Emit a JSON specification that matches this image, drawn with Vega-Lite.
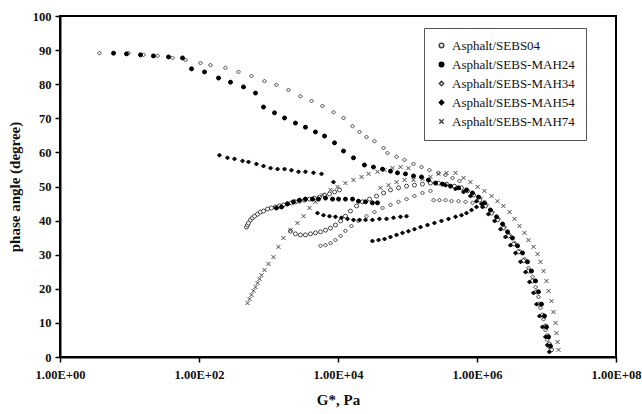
{
  "$schema": "https://vega.github.io/schema/vega-lite/v6.json",
  "width": 556,
  "height": 341,
  "autosize": {"type": "none"},
  "padding": {"left": 60, "top": 16, "right": 26, "bottom": 57},
  "background": "white",
  "config": {
    "view": {"stroke": "black", "strokeWidth": 2},
    "font": "Liberation Serif",
    "axis": {"grid": false, "domainColor": "black", "domainWidth": 2, "tickColor": "black", "tickWidth": 1.5, "tickSize": 5, "labelFont": "Liberation Serif", "labelFontWeight": "bold", "labelFontSize": 12.5, "labelColor": "#111", "titleFont": "Liberation Serif", "titleFontWeight": "bold", "titleFontSize": 15, "titleColor": "#111"},
    "legend": {"labelFont": "Liberation Serif", "labelFontSize": 13, "labelColor": "#111"}
  },
  "data": {"values": [
    {"s":"Asphalt/SEBS-MAH34","g":3.70,"p":89.1},{"s":"Asphalt/SEBS-MAH34","g":9.68,"p":89.1},{"s":"Asphalt/SEBS-MAH34","g":15.9,"p":88.6},{"s":"Asphalt/SEBS-MAH34","g":25.3,"p":88.3},{"s":"Asphalt/SEBS-MAH34","g":41.6,"p":87.7},{"s":"Asphalt/SEBS-MAH34","g":64.0,"p":87.1},{"s":"Asphalt/SEBS-MAH34","g":105,"p":86.2},{"s":"Asphalt/SEBS-MAH34","g":146,"p":85.6},{"s":"Asphalt/SEBS-MAH34","g":240,"p":84.8},{"s":"Asphalt/SEBS-MAH34","g":370,"p":83.6},{"s":"Asphalt/SEBS-MAH34","g":569,"p":82.4},{"s":"Asphalt/SEBS-MAH34","g":875,"p":80.9},{"s":"Asphalt/SEBS-MAH34","g":1300,"p":79.8},{"s":"Asphalt/SEBS-MAH34","g":1940,"p":78.3},{"s":"Asphalt/SEBS-MAH34","g":2880,"p":76.5},{"s":"Asphalt/SEBS-MAH34","g":4160,"p":75.1},{"s":"Asphalt/SEBS-MAH34","g":5980,"p":73.6},{"s":"Asphalt/SEBS-MAH34","g":8610,"p":71.8},{"s":"Asphalt/SEBS-MAH34","g":12000,"p":70.1},{"s":"Asphalt/SEBS-MAH34","g":16200,"p":67.7},{"s":"Asphalt/SEBS-MAH34","g":20400,"p":66.0},{"s":"Asphalt/SEBS-MAH34","g":25700,"p":64.5},{"s":"Asphalt/SEBS-MAH34","g":33500,"p":63.3},{"s":"Asphalt/SEBS-MAH34","g":45200,"p":61.3},{"s":"Asphalt/SEBS-MAH34","g":51500,"p":59.8},{"s":"Asphalt/SEBS-MAH34","g":69500,"p":58.7},{"s":"Asphalt/SEBS-MAH34","g":90600,"p":57.8},{"s":"Asphalt/SEBS-MAH34","g":122000,"p":56.6},{"s":"Asphalt/SEBS-MAH34","g":159000,"p":55.7},{"s":"Asphalt/SEBS-MAH34","g":207000,"p":54.8},{"s":"Asphalt/SEBS-MAH34","g":279000,"p":54.0},{"s":"Asphalt/SEBS-MAH34","g":352000,"p":53.4},{"s":"Asphalt/SEBS-MAH34","g":444000,"p":52.5},{"s":"Asphalt/SEBS-MAH34","g":560000,"p":51.6},
    {"s":"Asphalt/SEBS-MAH34","g":5600,"p":32.6},{"s":"Asphalt/SEBS-MAH34","g":6610,"p":32.8},{"s":"Asphalt/SEBS-MAH34","g":7800,"p":33.4},{"s":"Asphalt/SEBS-MAH34","g":9200,"p":34.3},{"s":"Asphalt/SEBS-MAH34","g":10900,"p":35.5},{"s":"Asphalt/SEBS-MAH34","g":12800,"p":37.0},{"s":"Asphalt/SEBS-MAH34","g":15600,"p":38.4},{"s":"Asphalt/SEBS-MAH34","g":19700,"p":39.9},{"s":"Asphalt/SEBS-MAH34","g":25700,"p":41.3},{"s":"Asphalt/SEBS-MAH34","g":33500,"p":42.5},{"s":"Asphalt/SEBS-MAH34","g":43700,"p":43.7},{"s":"Asphalt/SEBS-MAH34","g":56900,"p":44.6},{"s":"Asphalt/SEBS-MAH34","g":74300,"p":45.5},{"s":"Asphalt/SEBS-MAH34","g":96800,"p":46.3},{"s":"Asphalt/SEBS-MAH34","g":126000,"p":47.2},{"s":"Asphalt/SEBS-MAH34","g":164000,"p":48.1},{"s":"Asphalt/SEBS-MAH34","g":214000,"p":48.7},
    {"s":"Asphalt/SEBS-MAH34","g":237000,"p":46.0},{"s":"Asphalt/SEBS-MAH34","g":288000,"p":46.0},{"s":"Asphalt/SEBS-MAH34","g":352000,"p":46.0},{"s":"Asphalt/SEBS-MAH34","g":430000,"p":45.7},{"s":"Asphalt/SEBS-MAH34","g":542000,"p":45.7},{"s":"Asphalt/SEBS-MAH34","g":684000,"p":45.5},{"s":"Asphalt/SEBS-MAH34","g":861000,"p":45.2},
    {"s":"Asphalt/SEBS-MAH34","g":1.12e6,"p":46.6},{"s":"Asphalt/SEBS-MAH34","g":1.37e6,"p":44.6},{"s":"Asphalt/SEBS-MAH34","g":1.67e6,"p":42.5},{"s":"Asphalt/SEBS-MAH34","g":2.04e6,"p":40.5},{"s":"Asphalt/SEBS-MAH34","g":2.49e6,"p":38.1},{"s":"Asphalt/SEBS-MAH34","g":2.94e6,"p":35.8},{"s":"Asphalt/SEBS-MAH34","g":3.47e6,"p":33.4},{"s":"Asphalt/SEBS-MAH34","g":4.09e6,"p":31.1},{"s":"Asphalt/SEBS-MAH34","g":4.82e6,"p":28.7},{"s":"Asphalt/SEBS-MAH34","g":5.51e6,"p":26.1},{"s":"Asphalt/SEBS-MAH34","g":6.29e6,"p":23.5},{"s":"Asphalt/SEBS-MAH34","g":6.95e6,"p":20.5},{"s":"Asphalt/SEBS-MAH34","g":7.67e6,"p":17.6},{"s":"Asphalt/SEBS-MAH34","g":8.20e6,"p":14.4},{"s":"Asphalt/SEBS-MAH34","g":9.06e6,"p":11.1},{"s":"Asphalt/SEBS-MAH34","g":9.68e6,"p":7.9},{"s":"Asphalt/SEBS-MAH34","g":1.03e7,"p":5.0},{"s":"Asphalt/SEBS-MAH34","g":1.10e7,"p":2.9},

    {"s":"Asphalt/SEBS04","g":482,"p":38.1},{"s":"Asphalt/SEBS04","g":499,"p":38.7},{"s":"Asphalt/SEBS04","g":515,"p":39.3},{"s":"Asphalt/SEBS04","g":551,"p":40.2},{"s":"Asphalt/SEBS04","g":589,"p":40.8},{"s":"Asphalt/SEBS04","g":630,"p":41.3},{"s":"Asphalt/SEBS04","g":695,"p":41.9},{"s":"Asphalt/SEBS04","g":767,"p":42.5},{"s":"Asphalt/SEBS04","g":847,"p":42.8},{"s":"Asphalt/SEBS04","g":968,"p":43.4},{"s":"Asphalt/SEBS04","g":1100,"p":43.7},{"s":"Asphalt/SEBS04","g":1260,"p":44.0},{"s":"Asphalt/SEBS04","g":1440,"p":44.3},{"s":"Asphalt/SEBS04","g":1640,"p":44.6},{"s":"Asphalt/SEBS04","g":1870,"p":44.9},{"s":"Asphalt/SEBS04","g":2140,"p":45.2},{"s":"Asphalt/SEBS04","g":2440,"p":45.5},{"s":"Asphalt/SEBS04","g":2790,"p":45.7},{"s":"Asphalt/SEBS04","g":3300,"p":46.0},{"s":"Asphalt/SEBS04","g":3890,"p":46.3},{"s":"Asphalt/SEBS04","g":4590,"p":46.6},{"s":"Asphalt/SEBS04","g":5420,"p":46.9},{"s":"Asphalt/SEBS04","g":6400,"p":47.5},{"s":"Asphalt/SEBS04","g":7550,"p":47.8},{"s":"Asphalt/SEBS04","g":8910,"p":48.4},{"s":"Asphalt/SEBS04","g":10500,"p":49.0},
    {"s":"Asphalt/SEBS04","g":2070,"p":36.9},{"s":"Asphalt/SEBS04","g":2440,"p":36.1},{"s":"Asphalt/SEBS04","g":2880,"p":35.8},{"s":"Asphalt/SEBS04","g":3400,"p":35.8},{"s":"Asphalt/SEBS04","g":4020,"p":36.1},{"s":"Asphalt/SEBS04","g":4740,"p":36.4},{"s":"Asphalt/SEBS04","g":5600,"p":36.7},{"s":"Asphalt/SEBS04","g":6610,"p":37.2},{"s":"Asphalt/SEBS04","g":7800,"p":37.8},{"s":"Asphalt/SEBS04","g":9200,"p":38.7},{"s":"Asphalt/SEBS04","g":10900,"p":39.9},{"s":"Asphalt/SEBS04","g":12800,"p":41.3},{"s":"Asphalt/SEBS04","g":15100,"p":42.8},{"s":"Asphalt/SEBS04","g":18500,"p":44.3},{"s":"Asphalt/SEBS04","g":22500,"p":45.5},{"s":"Asphalt/SEBS04","g":28400,"p":46.3},{"s":"Asphalt/SEBS04","g":35800,"p":47.2},{"s":"Asphalt/SEBS04","g":45200,"p":48.1},{"s":"Asphalt/SEBS04","g":56900,"p":49.0},{"s":"Asphalt/SEBS04","g":74300,"p":49.6},{"s":"Asphalt/SEBS04","g":96800,"p":50.1},{"s":"Asphalt/SEBS04","g":126000,"p":50.4},{"s":"Asphalt/SEBS04","g":164000,"p":50.7},{"s":"Asphalt/SEBS04","g":214000,"p":51.0},{"s":"Asphalt/SEBS04","g":279000,"p":51.0},{"s":"Asphalt/SEBS04","g":364000,"p":50.7},{"s":"Asphalt/SEBS04","g":474000,"p":50.1},{"s":"Asphalt/SEBS04","g":598000,"p":49.6},
    {"s":"Asphalt/SEBS04","g":729000,"p":48.7},{"s":"Asphalt/SEBS04","g":891000,"p":47.5},{"s":"Asphalt/SEBS04","g":1.09e6,"p":46.0},{"s":"Asphalt/SEBS04","g":1.32e6,"p":44.3},{"s":"Asphalt/SEBS04","g":1.62e6,"p":42.2},{"s":"Asphalt/SEBS04","g":1.97e6,"p":40.2},{"s":"Asphalt/SEBS04","g":2.40e6,"p":37.8},{"s":"Asphalt/SEBS04","g":2.84e6,"p":35.5},{"s":"Asphalt/SEBS04","g":3.35e6,"p":33.1},{"s":"Asphalt/SEBS04","g":3.95e6,"p":30.8},{"s":"Asphalt/SEBS04","g":4.67e6,"p":28.2},{"s":"Asphalt/SEBS04","g":5.51e6,"p":25.2},{"s":"Asphalt/SEBS04","g":6.29e6,"p":22.3},{"s":"Asphalt/SEBS04","g":7.18e6,"p":19.1},{"s":"Asphalt/SEBS04","g":7.93e6,"p":15.5},{"s":"Asphalt/SEBS04","g":8.75e6,"p":12.3},{"s":"Asphalt/SEBS04","g":9.68e6,"p":9.1},{"s":"Asphalt/SEBS04","g":1.03e7,"p":6.2},{"s":"Asphalt/SEBS04","g":1.10e7,"p":3.8},{"s":"Asphalt/SEBS04","g":1.18e7,"p":2.1},

    {"s":"Asphalt/SEBS-MAH74","g":499,"p":15.8},{"s":"Asphalt/SEBS-MAH74","g":533,"p":17.0},{"s":"Asphalt/SEBS-MAH74","g":569,"p":18.2},{"s":"Asphalt/SEBS-MAH74","g":608,"p":19.4},{"s":"Asphalt/SEBS-MAH74","g":650,"p":20.5},{"s":"Asphalt/SEBS-MAH74","g":695,"p":21.7},{"s":"Asphalt/SEBS-MAH74","g":743,"p":22.9},{"s":"Asphalt/SEBS-MAH74","g":793,"p":24.0},{"s":"Asphalt/SEBS-MAH74","g":875,"p":25.5},{"s":"Asphalt/SEBS-MAH74","g":1000,"p":27.3},{"s":"Asphalt/SEBS-MAH74","g":1180,"p":29.3},{"s":"Asphalt/SEBS-MAH74","g":1390,"p":32.3},{"s":"Asphalt/SEBS-MAH74","g":1640,"p":34.9},{"s":"Asphalt/SEBS-MAH74","g":2070,"p":37.2},{"s":"Asphalt/SEBS-MAH74","g":2610,"p":39.3},{"s":"Asphalt/SEBS-MAH74","g":3190,"p":41.3},{"s":"Asphalt/SEBS-MAH74","g":3890,"p":43.7},{"s":"Asphalt/SEBS-MAH74","g":4740,"p":45.5},
    {"s":"Asphalt/SEBS-MAH74","g":5980,"p":47.5},{"s":"Asphalt/SEBS-MAH74","g":7800,"p":49.0},{"s":"Asphalt/SEBS-MAH74","g":9840,"p":49.9},{"s":"Asphalt/SEBS-MAH74","g":12800,"p":51.0},{"s":"Asphalt/SEBS-MAH74","g":16700,"p":51.9},{"s":"Asphalt/SEBS-MAH74","g":21800,"p":52.8},{"s":"Asphalt/SEBS-MAH74","g":27500,"p":53.7},{"s":"Asphalt/SEBS-MAH74","g":37000,"p":54.3},{"s":"Asphalt/SEBS-MAH74","g":46700,"p":54.8},{"s":"Asphalt/SEBS-MAH74","g":60800,"p":55.4},{"s":"Asphalt/SEBS-MAH74","g":79300,"p":55.7},{"s":"Asphalt/SEBS-MAH74","g":103000,"p":55.4},
    {"s":"Asphalt/SEBS-MAH74","g":40900,"p":49.6},{"s":"Asphalt/SEBS-MAH74","g":53300,"p":50.4},{"s":"Asphalt/SEBS-MAH74","g":69500,"p":51.3},{"s":"Asphalt/SEBS-MAH74","g":90600,"p":51.9},{"s":"Asphalt/SEBS-MAH74","g":122000,"p":51.9},{"s":"Asphalt/SEBS-MAH74","g":164000,"p":52.2},{"s":"Asphalt/SEBS-MAH74","g":214000,"p":52.8},{"s":"Asphalt/SEBS-MAH74","g":279000,"p":53.7},{"s":"Asphalt/SEBS-MAH74","g":364000,"p":54.0},{"s":"Asphalt/SEBS-MAH74","g":491000,"p":54.0},
    {"s":"Asphalt/SEBS-MAH74","g":640000,"p":52.5},{"s":"Asphalt/SEBS-MAH74","g":805000,"p":51.3},{"s":"Asphalt/SEBS-MAH74","g":1.02e6,"p":49.9},{"s":"Asphalt/SEBS-MAH74","g":1.28e6,"p":48.7},{"s":"Asphalt/SEBS-MAH74","g":1.62e6,"p":47.2},{"s":"Asphalt/SEBS-MAH74","g":1.97e6,"p":45.7},{"s":"Asphalt/SEBS-MAH74","g":2.40e6,"p":44.3},{"s":"Asphalt/SEBS-MAH74","g":2.94e6,"p":42.5},{"s":"Asphalt/SEBS-MAH74","g":3.47e6,"p":40.5},{"s":"Asphalt/SEBS-MAH74","g":4.09e6,"p":38.4},{"s":"Asphalt/SEBS-MAH74","g":4.82e6,"p":36.4},{"s":"Asphalt/SEBS-MAH74","g":5.51e6,"p":34.3},{"s":"Asphalt/SEBS-MAH74","g":6.50e6,"p":32.3},{"s":"Asphalt/SEBS-MAH74","g":7.43e6,"p":30.2},{"s":"Asphalt/SEBS-MAH74","g":8.20e6,"p":27.9},{"s":"Asphalt/SEBS-MAH74","g":9.06e6,"p":25.2},{"s":"Asphalt/SEBS-MAH74","g":1.0e7,"p":22.3},{"s":"Asphalt/SEBS-MAH74","g":1.07e7,"p":19.4},{"s":"Asphalt/SEBS-MAH74","g":1.18e7,"p":16.4},{"s":"Asphalt/SEBS-MAH74","g":1.26e7,"p":13.2},{"s":"Asphalt/SEBS-MAH74","g":1.35e7,"p":10.0},{"s":"Asphalt/SEBS-MAH74","g":1.39e7,"p":7.0},{"s":"Asphalt/SEBS-MAH74","g":1.44e7,"p":4.4},{"s":"Asphalt/SEBS-MAH74","g":1.49e7,"p":2.1},

    {"s":"Asphalt/SEBS-MAH24","g":5.89,"p":89.1},{"s":"Asphalt/SEBS-MAH24","g":9.05,"p":88.9},{"s":"Asphalt/SEBS-MAH24","g":14.4,"p":88.6},{"s":"Asphalt/SEBS-MAH24","g":22.1,"p":88.3},{"s":"Asphalt/SEBS-MAH24","g":36.4,"p":88.0},{"s":"Asphalt/SEBS-MAH24","g":57.9,"p":87.7},{"s":"Asphalt/SEBS-MAH24","g":78,"p":84.5},{"s":"Asphalt/SEBS-MAH24","g":120,"p":83.6},{"s":"Asphalt/SEBS-MAH24","g":191,"p":81.8},{"s":"Asphalt/SEBS-MAH24","g":284,"p":80.6},{"s":"Asphalt/SEBS-MAH24","g":437,"p":79.2},{"s":"Asphalt/SEBS-MAH24","g":650,"p":77.4},{"s":"Asphalt/SEBS-MAH24","g":847,"p":73.3},{"s":"Asphalt/SEBS-MAH24","g":1220,"p":71.6},{"s":"Asphalt/SEBS-MAH24","g":1700,"p":70.1},{"s":"Asphalt/SEBS-MAH24","g":2440,"p":68.6},{"s":"Asphalt/SEBS-MAH24","g":3400,"p":67.4},{"s":"Asphalt/SEBS-MAH24","g":4740,"p":66.0},{"s":"Asphalt/SEBS-MAH24","g":6400,"p":64.8},{"s":"Asphalt/SEBS-MAH24","g":8910,"p":62.8},{"s":"Asphalt/SEBS-MAH24","g":12000,"p":60.4},{"s":"Asphalt/SEBS-MAH24","g":16700,"p":58.4},{"s":"Asphalt/SEBS-MAH24","g":24000,"p":56.3},{"s":"Asphalt/SEBS-MAH24","g":32400,"p":55.7},{"s":"Asphalt/SEBS-MAH24","g":43700,"p":55.1},{"s":"Asphalt/SEBS-MAH24","g":56900,"p":54.5},{"s":"Asphalt/SEBS-MAH24","g":71800,"p":54.0},{"s":"Asphalt/SEBS-MAH24","g":93500,"p":53.7},{"s":"Asphalt/SEBS-MAH24","g":122000,"p":53.1},{"s":"Asphalt/SEBS-MAH24","g":159000,"p":52.8},{"s":"Asphalt/SEBS-MAH24","g":200000,"p":51.9},{"s":"Asphalt/SEBS-MAH24","g":253000,"p":51.0},{"s":"Asphalt/SEBS-MAH24","g":319000,"p":50.7},{"s":"Asphalt/SEBS-MAH24","g":416000,"p":50.1},{"s":"Asphalt/SEBS-MAH24","g":542000,"p":49.6},{"s":"Asphalt/SEBS-MAH24","g":706000,"p":49.0},{"s":"Asphalt/SEBS-MAH24","g":861000,"p":48.1},{"s":"Asphalt/SEBS-MAH24","g":1.05e6,"p":46.9},{"s":"Asphalt/SEBS-MAH24","g":1.28e6,"p":45.2},{"s":"Asphalt/SEBS-MAH24","g":1.56e6,"p":43.1},{"s":"Asphalt/SEBS-MAH24","g":1.91e6,"p":41.1},{"s":"Asphalt/SEBS-MAH24","g":2.33e6,"p":39.0},{"s":"Asphalt/SEBS-MAH24","g":2.75e6,"p":36.7},{"s":"Asphalt/SEBS-MAH24","g":3.24e6,"p":34.9},{"s":"Asphalt/SEBS-MAH24","g":3.83e6,"p":32.6},{"s":"Asphalt/SEBS-MAH24","g":4.52e6,"p":30.5},{"s":"Asphalt/SEBS-MAH24","g":5.33e6,"p":27.9},{"s":"Asphalt/SEBS-MAH24","g":6.08e6,"p":25.2},{"s":"Asphalt/SEBS-MAH24","g":6.95e6,"p":22.3},{"s":"Asphalt/SEBS-MAH24","g":7.67e6,"p":19.1},{"s":"Asphalt/SEBS-MAH24","g":8.47e6,"p":15.5},{"s":"Asphalt/SEBS-MAH24","g":9.35e6,"p":12.0},{"s":"Asphalt/SEBS-MAH24","g":1.0e7,"p":8.8},{"s":"Asphalt/SEBS-MAH24","g":1.07e7,"p":5.9},{"s":"Asphalt/SEBS-MAH24","g":1.14e7,"p":3.2},
    {"s":"Asphalt/SEBS-MAH24","g":1300,"p":43.7},{"s":"Asphalt/SEBS-MAH24","g":1540,"p":44.0},{"s":"Asphalt/SEBS-MAH24","g":1870,"p":44.9},{"s":"Asphalt/SEBS-MAH24","g":2290,"p":45.5},{"s":"Asphalt/SEBS-MAH24","g":2790,"p":46.0},{"s":"Asphalt/SEBS-MAH24","g":3400,"p":46.3},{"s":"Asphalt/SEBS-MAH24","g":4300,"p":46.3},{"s":"Asphalt/SEBS-MAH24","g":5240,"p":46.3},{"s":"Asphalt/SEBS-MAH24","g":6610,"p":46.6},{"s":"Asphalt/SEBS-MAH24","g":8340,"p":46.3},{"s":"Asphalt/SEBS-MAH24","g":10200,"p":46.3},{"s":"Asphalt/SEBS-MAH24","g":12800,"p":46.3},{"s":"Asphalt/SEBS-MAH24","g":16200,"p":46.3},{"s":"Asphalt/SEBS-MAH24","g":19700,"p":45.7},{"s":"Asphalt/SEBS-MAH24","g":24900,"p":45.5},{"s":"Asphalt/SEBS-MAH24","g":31300,"p":45.2},{"s":"Asphalt/SEBS-MAH24","g":37000,"p":45.2},

    {"s":"Asphalt/SEBS-MAH54","g":197,"p":59.2},{"s":"Asphalt/SEBS-MAH54","g":257,"p":58.4},{"s":"Asphalt/SEBS-MAH54","g":324,"p":58.1},{"s":"Asphalt/SEBS-MAH54","g":423,"p":57.5},{"s":"Asphalt/SEBS-MAH54","g":515,"p":57.2},{"s":"Asphalt/SEBS-MAH54","g":671,"p":56.6},{"s":"Asphalt/SEBS-MAH54","g":847,"p":56.0},{"s":"Asphalt/SEBS-MAH54","g":1070,"p":55.4},{"s":"Asphalt/SEBS-MAH54","g":1350,"p":55.1},{"s":"Asphalt/SEBS-MAH54","g":1700,"p":55.1},{"s":"Asphalt/SEBS-MAH54","g":2140,"p":54.8},{"s":"Asphalt/SEBS-MAH54","g":2700,"p":54.3},{"s":"Asphalt/SEBS-MAH54","g":3400,"p":54.3},{"s":"Asphalt/SEBS-MAH54","g":4440,"p":54.0},{"s":"Asphalt/SEBS-MAH54","g":5790,"p":53.7},
    {"s":"Asphalt/SEBS-MAH54","g":8610,"p":51.3},{"s":"Asphalt/SEBS-MAH54","g":5070,"p":42.2},{"s":"Asphalt/SEBS-MAH54","g":6180,"p":41.6},{"s":"Asphalt/SEBS-MAH54","g":7550,"p":41.3},{"s":"Asphalt/SEBS-MAH54","g":9200,"p":41.1},{"s":"Asphalt/SEBS-MAH54","g":11200,"p":40.8},{"s":"Asphalt/SEBS-MAH54","g":13700,"p":40.5},{"s":"Asphalt/SEBS-MAH54","g":16700,"p":40.2},{"s":"Asphalt/SEBS-MAH54","g":20400,"p":40.2},{"s":"Asphalt/SEBS-MAH54","g":24900,"p":40.2},{"s":"Asphalt/SEBS-MAH54","g":31300,"p":40.2},{"s":"Asphalt/SEBS-MAH54","g":39500,"p":40.5},{"s":"Asphalt/SEBS-MAH54","g":49900,"p":40.5},{"s":"Asphalt/SEBS-MAH54","g":62900,"p":40.8},{"s":"Asphalt/SEBS-MAH54","g":79300,"p":41.1},{"s":"Asphalt/SEBS-MAH54","g":96800,"p":41.3},
    {"s":"Asphalt/SEBS-MAH54","g":31300,"p":34.0},{"s":"Asphalt/SEBS-MAH54","g":38300,"p":34.3},{"s":"Asphalt/SEBS-MAH54","g":46700,"p":34.6},{"s":"Asphalt/SEBS-MAH54","g":56900,"p":35.2},{"s":"Asphalt/SEBS-MAH54","g":69500,"p":35.8},{"s":"Asphalt/SEBS-MAH54","g":84700,"p":36.4},{"s":"Asphalt/SEBS-MAH54","g":103000,"p":36.9},{"s":"Asphalt/SEBS-MAH54","g":126000,"p":37.5},{"s":"Asphalt/SEBS-MAH54","g":154000,"p":38.1},{"s":"Asphalt/SEBS-MAH54","g":194000,"p":38.7},{"s":"Asphalt/SEBS-MAH54","g":244000,"p":39.3},{"s":"Asphalt/SEBS-MAH54","g":308000,"p":39.9},{"s":"Asphalt/SEBS-MAH54","g":389000,"p":40.5},{"s":"Asphalt/SEBS-MAH54","g":491000,"p":41.1},{"s":"Asphalt/SEBS-MAH54","g":598000,"p":41.6},{"s":"Asphalt/SEBS-MAH54","g":706000,"p":42.2},{"s":"Asphalt/SEBS-MAH54","g":834000,"p":43.1},{"s":"Asphalt/SEBS-MAH54","g":984000,"p":44.0},{"s":"Asphalt/SEBS-MAH54","g":1.16e6,"p":44.9},
    {"s":"Asphalt/SEBS-MAH54","g":352000,"p":50.4},{"s":"Asphalt/SEBS-MAH54","g":491000,"p":49.3},{"s":"Asphalt/SEBS-MAH54","g":640000,"p":48.4},{"s":"Asphalt/SEBS-MAH54","g":805000,"p":47.2},{"s":"Asphalt/SEBS-MAH54","g":984000,"p":45.7},{"s":"Asphalt/SEBS-MAH54","g":1.20e6,"p":44.0},{"s":"Asphalt/SEBS-MAH54","g":1.46e6,"p":41.9},{"s":"Asphalt/SEBS-MAH54","g":1.79e6,"p":39.9},{"s":"Asphalt/SEBS-MAH54","g":2.18e6,"p":37.5},{"s":"Asphalt/SEBS-MAH54","g":2.57e6,"p":35.2},{"s":"Asphalt/SEBS-MAH54","g":3.03e6,"p":32.8},{"s":"Asphalt/SEBS-MAH54","g":3.58e6,"p":30.5},{"s":"Asphalt/SEBS-MAH54","g":4.23e6,"p":27.9},{"s":"Asphalt/SEBS-MAH54","g":4.99e6,"p":24.9},{"s":"Asphalt/SEBS-MAH54","g":5.69e6,"p":22.0},{"s":"Asphalt/SEBS-MAH54","g":6.50e6,"p":18.8},{"s":"Asphalt/SEBS-MAH54","g":7.18e6,"p":15.5},{"s":"Asphalt/SEBS-MAH54","g":7.93e6,"p":12.0},{"s":"Asphalt/SEBS-MAH54","g":8.75e6,"p":8.8},{"s":"Asphalt/SEBS-MAH54","g":9.68e6,"p":5.9},{"s":"Asphalt/SEBS-MAH54","g":1.03e7,"p":3.5},{"s":"Asphalt/SEBS-MAH54","g":1.10e7,"p":1.5}
  ]},
  "mark": {"type": "point", "opacity": 1, "size": 16, "strokeWidth": 1},
  "encoding": {
    "x": {"field": "g", "type": "quantitative", "title": "G*, Pa",
      "scale": {"type": "log", "domain": [1, 100000000], "nice": false},
      "axis": {"values": [1, 100, 10000, 1000000, 100000000], "labelExpr": "datum.value < 10 ? '1.00E+00' : datum.value < 1000 ? '1.00E+02' : datum.value < 100000 ? '1.00E+04' : datum.value < 10000000 ? '1.00E+06' : '1.00E+08'", "labelPadding": 6, "titlePadding": 12, "labelFlush": false, "labelOverlap": false, "labelBound": false}},
    "y": {"field": "p", "type": "quantitative", "title": "phase angle (degree)",
      "scale": {"domain": [0, 100], "nice": false},
      "axis": {"values": [0, 10, 20, 30, 40, 50, 60, 70, 80, 90, 100], "labelPadding": 4, "titlePadding": 10, "labelFlush": false}},
    "shape": {"field": "s", "type": "nominal", "title": null,
      "scale": {"domain": ["Asphalt/SEBS04", "Asphalt/SEBS-MAH24", "Asphalt/SEBS-MAH34", "Asphalt/SEBS-MAH54", "Asphalt/SEBS-MAH74"], "range": ["circle", "circle", "diamond", "diamond", "M-1,-1L1,1M1,-1L-1,1"]},
      "legend": {"orient": "none", "legendX": 364, "legendY": 12, "strokeColor": "#555", "fillColor": "white", "padding": 11, "rowPadding": 5, "symbolSize": 20, "labelOffset": 4}},
    "fill": {"field": "s", "type": "nominal", "title": null,
      "scale": {"domain": ["Asphalt/SEBS04", "Asphalt/SEBS-MAH24", "Asphalt/SEBS-MAH34", "Asphalt/SEBS-MAH54", "Asphalt/SEBS-MAH74"], "range": ["white", "black", "white", "black", "transparent"]}},
    "stroke": {"field": "s", "type": "nominal", "title": null,
      "scale": {"domain": ["Asphalt/SEBS04", "Asphalt/SEBS-MAH24", "Asphalt/SEBS-MAH34", "Asphalt/SEBS-MAH54", "Asphalt/SEBS-MAH74"], "range": ["#444", "#000", "#444", "#000", "#444"]}}
  }
}
